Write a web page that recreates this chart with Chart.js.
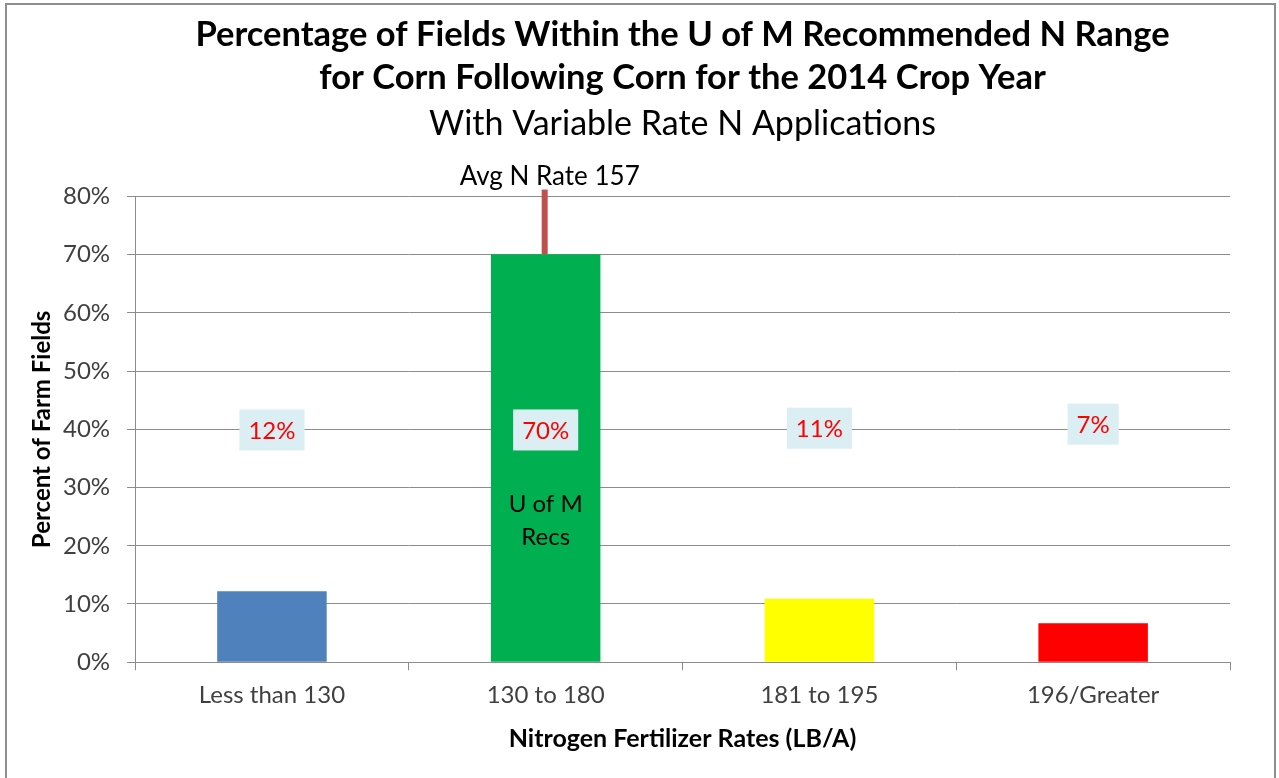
<!DOCTYPE html>
<html><head><meta charset="utf-8">
<script src="https://cdn.jsdelivr.net/npm/chart.js@4.4.1/dist/chart.umd.min.js"></script>
<style>html,body{margin:0;padding:0;background:#fff;overflow:hidden}#wrap{position:relative;width:1279px;height:778px}</style>
</head><body><div id="wrap"><canvas id="c" width="1279" height="778"></canvas></div>
<script>
const titleLines = ['Percentage of Fields Within the U of M Recommended N Range', 'for Corn Following Corn for the 2014 Crop Year'];
const subtitleText = 'With Variable Rate N Applications';
const categories = ['Less than 130', '130 to 180', '181 to 195', '196/Greater'];
const percentFields = [12.2, 70.1, 10.9, 6.7];
const barColors = ['#4F81BD', '#00B050', '#FFFF00', '#FF0000'];
const valueLabels = ['12%', '70%', '11%', '7%'];
const valueLabelLevels = [39.9, 39.9, 40.2, 40.9];
const yTickValues = [0, 10, 20, 30, 40, 50, 60, 70, 80];
const avgRateLabel = 'Avg N Rate 157';
const avgRateCategory = 1;
const avgRateRange = [70.1, 81.2];
const recsLines = ['U of M', 'Recs'];
const recsLevels = [27.1, 21.4];
const yAxisTitle = 'Percent of Farm Fields';
const xAxisTitle = 'Nitrogen Fertilizer Rates (LB/A)';

const FONT = 'Lato, "Open Sans", sans-serif';

const framePlugin = {
  id: 'frame',
  beforeDraw(chart) {
    const ctx = chart.ctx;
    ctx.save();
    ctx.fillStyle = '#ffffff';
    ctx.fillRect(0, 0, chart.width, chart.height);
    ctx.strokeStyle = '#8E8E8E';
    ctx.lineWidth = 2;
    ctx.beginPath();
    ctx.moveTo(6, chart.height + 5);
    ctx.lineTo(6, 4);
    ctx.lineTo(1275, 4);
    ctx.lineTo(1275, chart.height + 5);
    ctx.stroke();
    ctx.restore();
  }
};

const annotatePlugin = {
  id: 'annotate',
  afterDatasetsDraw(chart) {
    const ctx = chart.ctx;
    const y = chart.scales.y;
    const meta = chart.getDatasetMeta(0);
    ctx.save();
    const bx = meta.data[avgRateCategory].x - 1;
    ctx.strokeStyle = '#C0504D';
    ctx.lineWidth = 6;
    ctx.beginPath();
    ctx.moveTo(bx, y.getPixelForValue(avgRateRange[0]));
    ctx.lineTo(bx, y.getPixelForValue(avgRateRange[1]));
    ctx.stroke();
    ctx.fillStyle = '#000';
    ctx.font = '26px ' + FONT;
    ctx.textAlign = 'center';
    ctx.textBaseline = 'middle';
    ctx.fillText(avgRateLabel, meta.data[avgRateCategory].x + 4, y.getPixelForValue(avgRateRange[1]) - 13);
    ctx.font = '24px ' + FONT;
    recsLines.forEach((t, i) => {
      ctx.fillText(t, meta.data[avgRateCategory].x, y.getPixelForValue(recsLevels[i]));
    });
    ctx.font = '24px ' + FONT;
    meta.data.forEach((bar, i) => {
      const cy = y.getPixelForValue(valueLabelLevels[i]);
      const w = ctx.measureText(valueLabels[i]).width + 18;
      const h = 41;
      ctx.fillStyle = '#DAEEF3';
      ctx.fillRect(bar.x - w / 2, cy - h / 2, w, h);
      ctx.fillStyle = '#FF0000';
      ctx.fillText(valueLabels[i], bar.x, cy + 1);
    });
    ctx.restore();
  }
};

new Chart(document.getElementById('c'), {
  type: 'bar',
  data: {
    labels: categories,
    datasets: [{
      data: percentFields,
      backgroundColor: barColors,
      borderWidth: 0,
      barPercentage: 0.4,
      categoryPercentage: 1.0
    }]
  },
  options: {
    responsive: false,
    animation: false,
    events: [],
    layout: { padding: { left: 16, right: 49, top: 0, bottom: 27 } },
    plugins: {
      legend: { display: false },
      tooltip: { enabled: false },
      title: {
        display: true,
        fullSize: false,
        text: titleLines,
        color: '#000',
        font: { family: FONT, size: 34.5, weight: 'bold', lineHeight: 1.25 },
        padding: { top: 13.5, bottom: 6 }
      },
      subtitle: {
        display: true,
        fullSize: false,
        text: subtitleText,
        color: '#000',
        font: { family: FONT, size: 34, weight: 'normal', lineHeight: 1.1 },
        padding: { top: 0, bottom: 53.4 }
      }
    },
    scales: {
      y: {
        min: 0, max: 80,
        afterBuildTicks(scale) { scale.ticks = yTickValues.map(v => ({ value: v })); },
        ticks: {
          callback: v => v + '%',
          color: '#404040',
          font: { family: FONT, size: 24 },
          padding: 17
        },
        grid: { color: '#8C8C8C', lineWidth: 1, tickLength: 8 },
        border: { color: '#8C8C8C', width: 1 },
        title: {
          display: true,
          text: yAxisTitle,
          color: '#000',
          font: { family: FONT, size: 24, weight: 'bold', lineHeight: 1.0 },
          padding: { top: 14, bottom: -8 }
        }
      },
      x: {
        offset: true,
        ticks: {
          color: '#404040',
          font: { family: FONT, size: 24 },
          padding: 11
        },
        grid: { drawOnChartArea: false, color: '#8C8C8C', tickLength: 8, offset: true },
        border: { color: '#8C8C8C', width: 1 },
        title: {
          display: true,
          text: xAxisTitle,
          color: '#000',
          font: { family: FONT, size: 25, weight: 'bold', lineHeight: 1.0 },
          padding: { top: 5, bottom: 0 }
        }
      }
    }
  },
  plugins: [framePlugin, annotatePlugin]
});
</script>
</body></html>
